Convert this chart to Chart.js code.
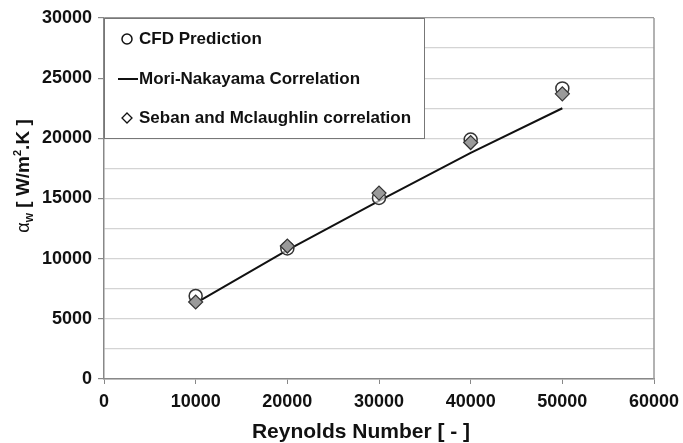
<!DOCTYPE html>
<html>
<head>
<meta charset="utf-8">
<script src="https://cdn.jsdelivr.net/npm/chart.js@4/dist/chart.umd.min.js"></script>
<style>
  html, body { margin: 0; padding: 0; background: #ffffff; }
  #wrap { width: 683px; height: 443px; position: relative; }
</style>
</head>
<body>
<div id="wrap"><canvas id="chart"></canvas></div>
<script>
const reynolds = [10000, 20000, 30000, 40000, 50000];
const cfdPrediction = [6900, 10850, 15050, 19900, 24150];
const moriNakayama = [6300, 10700, 14800, 18800, 22500];
const sebanMclaughlin = [6400, 11050, 15450, 19650, 23700];
const xTicks = [0, 10000, 20000, 30000, 40000, 50000, 60000];
const yTicks = [0, 5000, 10000, 15000, 20000, 25000, 30000];

const FONT = 'Liberation Sans, Arial, sans-serif';

const extras = {
  id: 'extras',
  beforeDatasetsDraw(chart) {
    // right frame line
    const { ctx, chartArea } = chart;
    ctx.save();
    ctx.strokeStyle = '#999';
    ctx.lineWidth = 1.5;
    ctx.beginPath();
    ctx.moveTo(chartArea.right, chartArea.top);
    ctx.lineTo(chartArea.right, chartArea.bottom);
    ctx.stroke();
    ctx.restore();
  },
  afterDatasetsDraw(chart) {
    const { ctx, chartArea } = chart;
    const x = chartArea.left, y = chartArea.top;
    ctx.save();
    ctx.fillStyle = '#ffffff';
    ctx.fillRect(x, y, 320, 120);
    ctx.strokeStyle = '#777';
    ctx.lineWidth = 1;
    ctx.strokeRect(x + 0.5, y + 0.5, 320, 120);

    ctx.font = 'bold 17px ' + FONT;
    ctx.fillStyle = '#111';
    ctx.textBaseline = 'middle';
    const rows = ['CFD Prediction', 'Mori-Nakayama Correlation', 'Seban and Mclaughlin correlation'];
    const rowY = [y + 21, y + 61, y + 100];
    rows.forEach((t, i) => ctx.fillText(t, x + 35, rowY[i]));

    ctx.strokeStyle = '#111';
    ctx.lineWidth = 1.5;
    ctx.beginPath();
    ctx.arc(x + 23, rowY[0], 5, 0, Math.PI * 2);
    ctx.stroke();
    ctx.lineWidth = 2;
    ctx.beginPath();
    ctx.moveTo(x + 14, rowY[1]);
    ctx.lineTo(x + 34, rowY[1]);
    ctx.stroke();
    ctx.lineWidth = 1.3;
    ctx.beginPath();
    ctx.moveTo(x + 23, rowY[2] - 5);
    ctx.lineTo(x + 28, rowY[2]);
    ctx.lineTo(x + 23, rowY[2] + 5);
    ctx.lineTo(x + 18, rowY[2]);
    ctx.closePath();
    ctx.stroke();
    ctx.restore();
  },
  afterDraw(chart) {
    const { ctx } = chart;
    ctx.save();
    ctx.fillStyle = '#111';
    // x title
    ctx.font = 'bold 21px ' + FONT;
    ctx.textAlign = 'center';
    ctx.textBaseline = 'alphabetic';
    ctx.fillText('Reynolds Number [ - ]', 361, 438);

    // y title with subscript / superscript
    ctx.textAlign = 'left';
    ctx.translate(22, 176);
    ctx.rotate(-Math.PI / 2);
    const parts = [
      { t: 'α', f: '18px ' + FONT, dy: 0 },
      { t: 'w', f: 'bold 12px ' + FONT, dy: 4 },
      { t: ' [ W/m', f: 'bold 19px ' + FONT, dy: 0 },
      { t: '2', f: 'bold 11px ' + FONT, dy: -8 },
      { t: '.K ]', f: 'bold 19px ' + FONT, dy: 0 },
    ];
    let w = 0;
    parts.forEach(p => { ctx.font = p.f; w += ctx.measureText(p.t).width; });
    let cx = -w / 2;
    parts.forEach(p => {
      ctx.font = p.f;
      ctx.fillText(p.t, cx, 7 + p.dy);
      cx += ctx.measureText(p.t).width;
    });
    ctx.restore();
  }
};

new Chart(document.getElementById('chart'), {
  type: 'scatter',
  data: {
    datasets: [
      {
        label: 'CFD Prediction',
        data: reynolds.map((r, i) => ({ x: r, y: cfdPrediction[i] })),
        pointStyle: 'circle',
        pointRadius: 6.5,
        backgroundColor: 'rgba(255,255,255,0.6)',
        borderColor: '#333',
        borderWidth: 1.5,
        order: 1,
      },
      {
        label: 'Mori-Nakayama Correlation',
        type: 'line',
        data: reynolds.map((r, i) => ({ x: r, y: moriNakayama[i] })),
        borderColor: '#111',
        borderWidth: 2,
        pointRadius: 0,
        fill: false,
        tension: 0,
        order: 3,
      },
      {
        label: 'Seban and Mclaughlin correlation',
        data: reynolds.map((r, i) => ({ x: r, y: sebanMclaughlin[i] })),
        pointStyle: 'rectRot',
        pointRadius: 7,
        backgroundColor: '#9a9a9a',
        borderColor: '#333',
        borderWidth: 1.2,
        order: 0,
      },
    ],
  },
  options: {
    responsive: true,
    maintainAspectRatio: false,
    animation: false,
    layout: { padding: { top: 18, right: 29, left: 0, bottom: 0 } },
    plugins: {
      legend: { display: false },
      tooltip: { enabled: false },
    },
    scales: {
      x: {
        type: 'linear',
        min: 0,
        max: 60000,
        afterBuildTicks(scale) { scale.ticks = xTicks.map(v => ({ value: v })); },
        afterFit(scale) {
          scale.height = 64;
          scale.paddingRight = 0;
          scale.paddingLeft = 0;
        },
        border: { color: '#888', width: 1.5 },
        grid: { display: true, drawOnChartArea: false, tickColor: '#888', tickLength: 5 },
        ticks: {
          color: '#111',
          font: { family: FONT, size: 18, weight: 'bold' },
          padding: 7,
          maxRotation: 0,
          callback: (v) => String(v),
        },
      },
      y: {
        min: 0,
        max: 30000,
        afterBuildTicks(scale) {
          const t = [];
          for (let v = 0; v <= 30000; v += 2500) t.push({ value: v });
          scale.ticks = t;
        },
        afterFit(scale) {
          scale.width = 104;
          scale.paddingTop = 0;
          scale.paddingBottom = 0;
        },
        border: { color: '#888', width: 1.5 },
        grid: {
          color: (c) => (c.tick && c.tick.value === 30000 ? '#999' : '#d4d4d4'),
          lineWidth: 1.2,
          tickColor: (c) => (c.tick && c.tick.value % 5000 === 0 ? '#888' : 'rgba(0,0,0,0)'),
          tickLength: 6,
        },
        ticks: {
          color: '#111',
          font: { family: FONT, size: 18, weight: 'bold' },
          padding: 6,
          callback: (v) => (yTicks.includes(v) ? String(v) : ''),
        },
      },
    },
  },
  plugins: [extras],
});
</script>
</body>
</html>
